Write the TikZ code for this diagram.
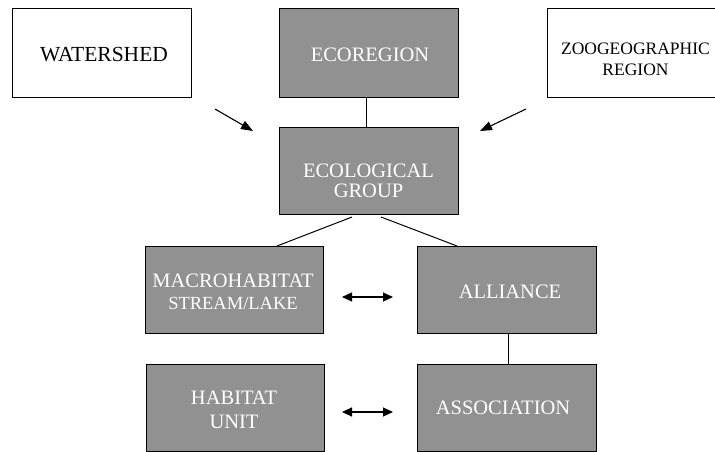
\documentclass[tikz,border=0pt]{standalone}
\usepackage{fontspec}
\setmainfont{Liberation Serif}
\usetikzlibrary{arrows.meta}
\definecolor{boxgray}{RGB}{145,145,145}
\begin{document}
\begin{tikzpicture}[x=1pt,y=-1pt,
  box/.style={draw=black, line width=1pt, rectangle, inner sep=0pt},
  graybox/.style={box, fill=boxgray, minimum height=87pt},
  whitebox/.style={box, fill=white, minimum height=88pt},
  wtext/.style={text=white, font=\fontsize{20.5}{22}\selectfont, inner sep=0pt, anchor=base},
  btext/.style={text=black, font=\fontsize{20.5}{22}\selectfont, inner sep=0pt, anchor=base},
  link/.style={line width=1pt},
  arr/.style={line width=1.1pt, -{Triangle[length=12pt,width=9pt]}},
  darr/.style={line width=1.1pt, {Triangle[length=10pt,width=9pt]}-{Triangle[length=10pt,width=9pt]}}]
\clip (0,0) rectangle (715,452);
\fill[white] (0,0) rectangle (715,452);
% boxes
\node[whitebox, minimum width=179pt] (watershed) at (101.5,53) {};
\node[graybox, minimum width=179pt, minimum height=88pt] (ecoreg) at (368.5,53) {};
\node[whitebox, minimum width=177pt] (zoo) at (635.5,53) {};
\node[graybox, minimum width=179pt] (ecogrp) at (368.5,170.5) {};
\node[graybox, minimum width=178pt] (macro) at (234,289.5) {};
\node[graybox, minimum width=179pt] (alliance) at (506.5,289.5) {};
\node[graybox, minimum width=178pt] (habitat) at (235,407.5) {};
\node[graybox, minimum width=179pt] (assoc) at (506.5,407.5) {};
% texts
\node[btext, font=\fontsize{21.5}{23}\selectfont] (tw) at (104,62) {WATERSHED};
\node[wtext] (te) at (370,62) {ECOREGION};
\node[btext, font=\fontsize{17.5}{19}\selectfont] (tz1) at (635.5,55) {ZOOGEOGRAPHIC};
\node[btext, font=\fontsize{17.5}{19}\selectfont] (tz2) at (635.5,76) {REGION};
\node[wtext] (tg1) at (368.5,177) {ECOLOGICAL};
\node[wtext] (tg2) at (368.5,197) {GROUP};
\node[wtext] (tm1) at (233,287) {MACROHABITAT};
\node[wtext, font=\fontsize{18.5}{20}\selectfont] (tm2) at (233,309) {STREAM/LAKE};
\node[wtext] (ta) at (510,298) {ALLIANCE};
\node[wtext] (th1) at (234,404) {HABITAT};
\node[wtext] (th2) at (234,428) {UNIT};
\node[wtext] (ts) at (503,414) {ASSOCIATION};
% connector end points
\coordinate (w1) at (215,109);
\coordinate (w2) at (253,131);
\coordinate (z1) at (526,109);
\coordinate (z2) at (480,131);
\coordinate (g1) at (352,217);
\coordinate (g2) at (381,217);
\coordinate (m1) at (277,246);
\coordinate (a1) at (457,246);
\coordinate (d1) at (342,297);
\coordinate (d2) at (393,297);
\coordinate (d3) at (342,412);
\coordinate (d4) at (393,412);
% connectors
\draw[link] (ecoreg.south -| 366,0) -- (ecogrp.north -| 366,0);
\draw[link] (alliance.south -| 508,0) -- (assoc.north -| 508,0);
\draw[link] (g1) -- (m1);
\draw[link] (g2) -- (a1);
\draw[arr] (w1) -- (w2);
\draw[arr] (z1) -- (z2);
\draw[darr] (d1) -- (d2);
\draw[darr] (d3) -- (d4);
\end{tikzpicture}
\end{document}
